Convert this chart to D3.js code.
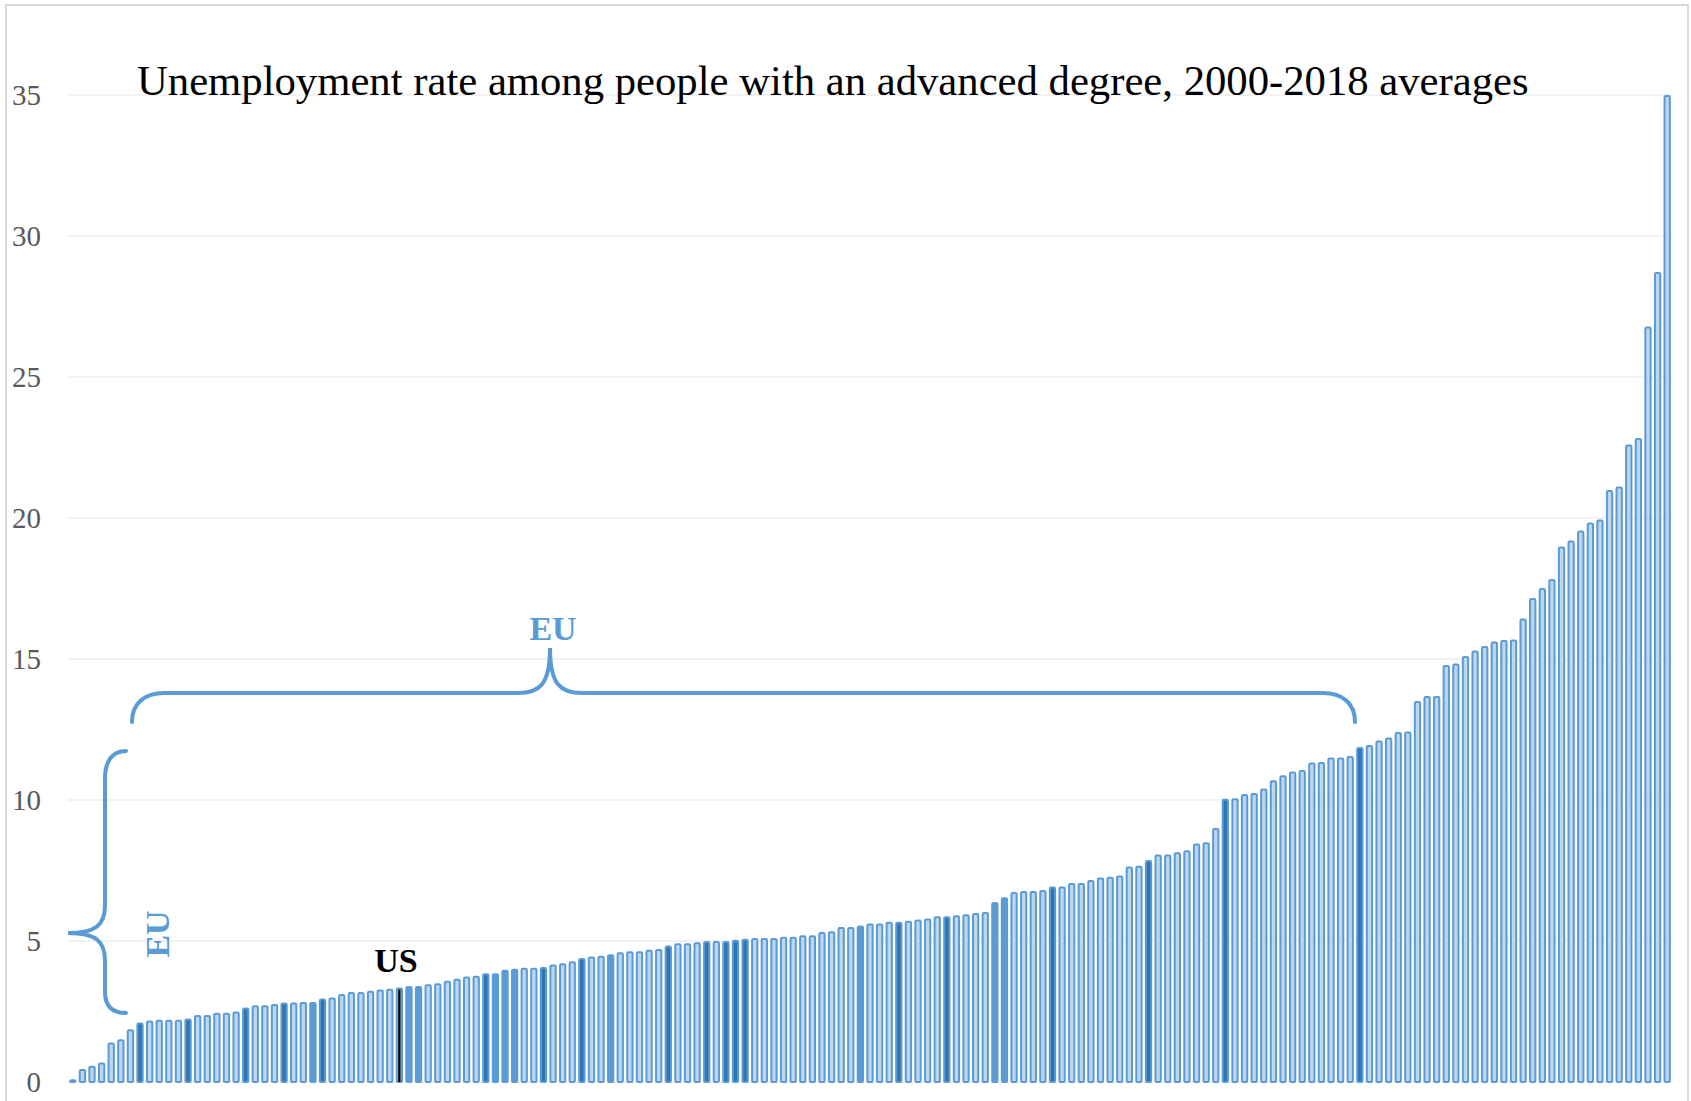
<!DOCTYPE html>
<html>
<head>
<meta charset="utf-8">
<script src="https://cdn.jsdelivr.net/npm/d3@7"></script>
<style>
  html, body { margin: 0; padding: 0; background: #ffffff; }
  svg { display: block; }
</style>
</head>
<body>
<svg id="chart" width="1691" height="1101"></svg>
<script>
// ---- Data ----
const titleText = "Unemployment rate among people with an advanced degree, 2000-2018 averages";

const values = [
  0.10, 0.46, 0.58, 0.69, 1.40, 1.52, 1.87, 2.11, 2.18, 2.21,
  2.21, 2.21, 2.25, 2.38, 2.38, 2.46, 2.46, 2.50, 2.64, 2.72,
  2.72, 2.77, 2.82, 2.82, 2.84, 2.84, 2.96, 3.00, 3.12, 3.19,
  3.19, 3.24, 3.28, 3.31, 3.35, 3.40, 3.40, 3.47, 3.50, 3.59,
  3.66, 3.74, 3.77, 3.86, 3.86, 3.98, 4.02, 4.05, 4.05, 4.08,
  4.17, 4.21, 4.28, 4.40, 4.45, 4.48, 4.53, 4.60, 4.64, 4.64,
  4.69, 4.72, 4.84, 4.92, 4.92, 4.96, 5.00, 5.00, 5.00, 5.04,
  5.08, 5.11, 5.11, 5.11, 5.15, 5.15, 5.20, 5.20, 5.32, 5.35,
  5.50, 5.50, 5.55, 5.62, 5.62, 5.68, 5.68, 5.72, 5.76, 5.80,
  5.88, 5.88, 5.91, 5.95, 5.99, 6.03, 6.38, 6.55, 6.74, 6.77,
  6.77, 6.81, 6.93, 6.93, 7.06, 7.06, 7.16, 7.25, 7.28, 7.32,
  7.64, 7.67, 7.87, 8.07, 8.07, 8.15, 8.22, 8.46, 8.50, 9.01,
  10.04, 10.06, 10.21, 10.25, 10.41, 10.70, 10.88, 11.01, 11.06, 11.33,
  11.35, 11.51, 11.51, 11.56, 11.88, 11.95, 12.11, 12.22, 12.41, 12.43,
  13.51, 13.69, 13.69, 14.79, 14.84, 15.11, 15.30, 15.46, 15.62, 15.67,
  15.69, 16.44, 17.16, 17.52, 17.84, 18.99, 19.20, 19.56, 19.84, 19.95,
  20.99, 21.12, 22.61, 22.84, 26.79, 28.72, 35.00
];

// bar style group: n = plain, d = dark centre, s = solid, u = US
const barTypes = (
  "nnnnnnnd" + "nnnnd" + "nnnnnd" + "nnnd" + "nnsd" + "nnnnnnnu" + "ssnnnnnn" +
  "dsss" + "nnd" + "nnnd" + "nns" + "nnnnnd" + "nnnd" + "ndddnnnnnnnnnnnsnnn" +
  "dnnnnd" + "nnnnss" + "nnnnd" + "nnnnnnnnnd" + "nnnnnnnd" + "nnnnnnnnnnnnnd" +
  "nnnnnnnnnnnnnnnnnnnnnnnnnnnnnnnn"
).split("");

const categories = values.map((v, i) => "c" + (i + 1));
const yTicks = [0, 5, 10, 15, 20, 25, 30, 35];

const usIndex = 34;          // the US bar
const euLabel = "EU";
const usLabel = "US";

// ---- Chart ----
const W = 1691, H = 1101;
const svg = d3.select("#chart");

const x = d3.scaleBand().domain(categories).range([68, 1672]).paddingInner(0.24).paddingOuter(0.12);
const y = d3.scaleLinear().domain([0, 35]).range([1082, 95]);

const blue = "#5b9bd5";

// frame
svg.append("rect").attr("x", 6).attr("y", 5).attr("width", 1682).attr("height", 1110)
  .attr("fill", "none").attr("stroke", "#d9d9d9").attr("stroke-width", 2);

// gridlines
svg.append("g").selectAll("line").data(yTicks).join("line")
  .attr("x1", 68).attr("x2", 1672)
  .attr("y1", d => y(d)).attr("y2", d => y(d))
  .attr("stroke", "#e6e6e6").attr("stroke-width", 1.2);

// y axis labels
const yAxis = d3.axisLeft(y).tickValues(yTicks).tickSize(0).tickPadding(0);
const gy = svg.append("g").attr("transform", "translate(41,0)").call(yAxis);
gy.select(".domain").remove();
gy.selectAll("text")
  .attr("font-family", "'Liberation Serif', 'Times New Roman', serif")
  .attr("font-size", 29).attr("fill", "#595959");

// bars
const data = values.map((v, i) => ({ cat: categories[i], v, t: barTypes[i] || "n" }));
const fillOf = { n: "#bdd7ee", d: "#2e75b6", s: blue, u: "#bdd7ee" };
svg.append("g").selectAll("rect").data(data).join("rect")
  .attr("x", d => x(d.cat) + 1)
  .attr("width", x.bandwidth() - 2)
  .attr("y", d => y(d.v) + 1)
  .attr("height", d => Math.max(0, y(0) - y(d.v) - 1))
  .attr("rx", 1.2)
  .attr("fill", d => fillOf[d.t])
  .attr("stroke", blue).attr("stroke-width", 2);

// US marker line
const usCat = categories[usIndex];
svg.append("line")
  .attr("x1", x(usCat) + x.bandwidth() / 2).attr("x2", x(usCat) + x.bandwidth() / 2)
  .attr("y1", y(values[usIndex]) + 2).attr("y2", y(0))
  .attr("stroke", "#000").attr("stroke-width", 2.4);

// title
svg.append("text").attr("x", 137).attr("y", 95)
  .attr("font-family", "'Liberation Serif', 'Times New Roman', serif")
  .attr("font-size", 42.7).attr("fill", "#000").text(titleText);

// braces
const braceTop = d3.path();
braceTop.moveTo(132, 722);
braceTop.bezierCurveTo(132, 703, 145, 693, 164, 693);
braceTop.lineTo(518, 693);
braceTop.bezierCurveTo(540, 693, 550, 684, 550, 648);
braceTop.bezierCurveTo(550, 684, 560, 693, 582, 693);
braceTop.lineTo(1323, 693);
braceTop.bezierCurveTo(1342, 693, 1355, 703, 1355, 722);
svg.append("path").attr("d", braceTop.toString())
  .attr("fill", "none").attr("stroke", blue).attr("stroke-width", 4).attr("stroke-linecap", "round");

const braceLeft = d3.path();
braceLeft.moveTo(126, 751);
braceLeft.bezierCurveTo(112, 751, 105, 762, 105, 778);
braceLeft.lineTo(105, 905);
braceLeft.bezierCurveTo(105, 925, 96, 933, 68, 933);
braceLeft.bezierCurveTo(96, 933, 105, 941, 105, 961);
braceLeft.lineTo(105, 992);
braceLeft.bezierCurveTo(105, 1006, 112, 1013, 126, 1013);
svg.append("path").attr("d", braceLeft.toString())
  .attr("fill", "none").attr("stroke", blue).attr("stroke-width", 4).attr("stroke-linecap", "round");

// annotation labels
svg.append("text").attr("x", 553).attr("y", 640).attr("text-anchor", "middle")
  .attr("font-family", "'Liberation Serif', 'Times New Roman', serif")
  .attr("font-size", 34).attr("font-weight", "bold").attr("fill", blue).text(euLabel);

svg.append("text").attr("transform", "translate(169,934) rotate(-90)").attr("text-anchor", "middle")
  .attr("font-family", "'Liberation Serif', 'Times New Roman', serif")
  .attr("font-size", 34).attr("font-weight", "bold").attr("fill", blue).text(euLabel);

svg.append("text").attr("x", 396).attr("y", 972).attr("text-anchor", "middle")
  .attr("font-family", "'Liberation Serif', 'Times New Roman', serif")
  .attr("font-size", 34).attr("font-weight", "bold").attr("fill", "#000").text(usLabel);
</script>
</body>
</html>
